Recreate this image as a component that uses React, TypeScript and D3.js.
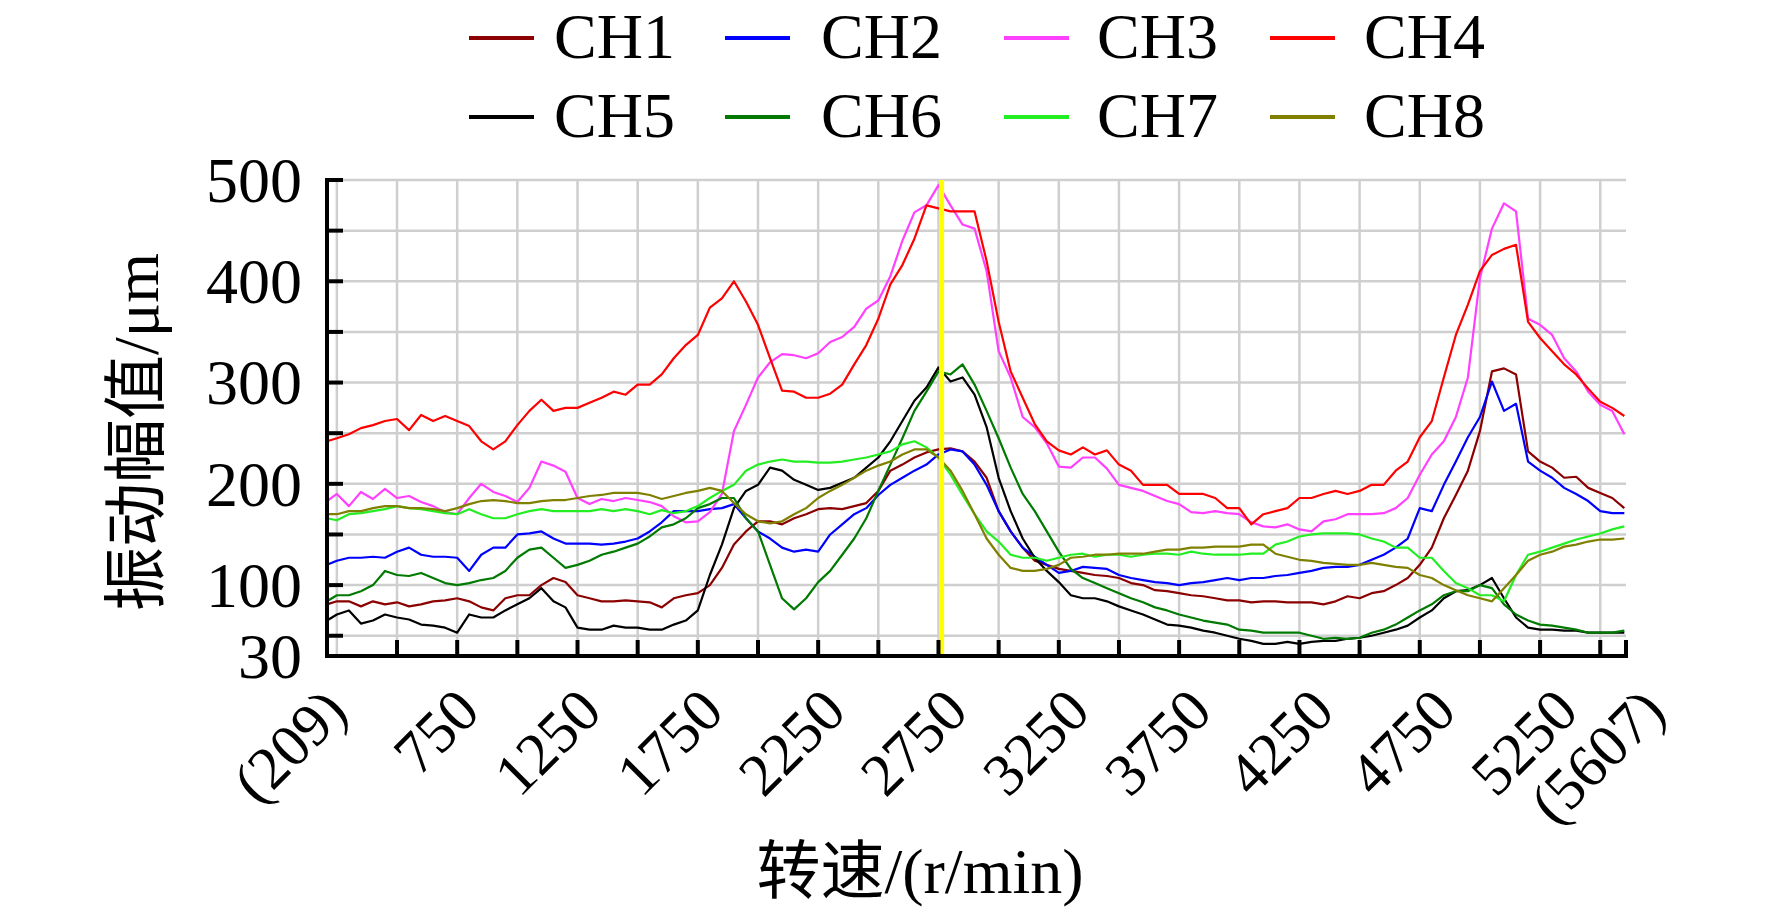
import React, { useEffect, useRef } from 'react';
import * as d3 from 'd3';

// rotor speed (r/min) at each sample
const RPM = [
  209, 250, 300, 350, 400, 450, 500, 550, 600, 650,
  700, 750, 800, 850, 900, 950, 1000, 1050, 1100, 1150,
  1200, 1250, 1300, 1350, 1400, 1450, 1500, 1550, 1600, 1650,
  1700, 1750, 1800, 1850, 1900, 1950, 2000, 2050, 2100, 2150,
  2200, 2250, 2300, 2350, 2400, 2450, 2500, 2550, 2600, 2650,
  2700, 2750, 2800, 2850, 2900, 2950, 3000, 3050, 3100, 3150,
  3200, 3250, 3300, 3350, 3400, 3450, 3500, 3550, 3600, 3650,
  3700, 3750, 3800, 3850, 3900, 3950, 4000, 4050, 4100, 4150,
  4200, 4250, 4300, 4350, 4400, 4450, 4500, 4550, 4600, 4650,
  4700, 4750, 4800, 4850, 4900, 4950, 5000, 5050, 5100, 5150,
  5200, 5250, 5300, 5350, 5400, 5450, 5500, 5550, 5600,
];

// vibration amplitude (um) per channel
const CH1 = [
  81, 84, 84, 79, 84, 81, 83, 79, 81, 84,
  85, 87, 84, 78, 75, 87, 90, 90, 100, 107,
  103, 90, 87, 84, 84, 85, 84, 83, 78, 87,
  90, 92, 100, 117, 140, 153, 163, 163, 160, 166,
  170, 175, 176, 175, 178, 181, 193, 213, 219, 226,
  231, 234, 235, 232, 222, 206, 173, 153, 137, 124,
  120, 116, 114, 112, 110, 109, 107, 102, 100, 95,
  94, 92, 90, 89, 87, 85, 85, 83, 84, 84,
  83, 83, 83, 81, 84, 89, 87, 92, 94, 100,
  107, 120, 137, 166, 189, 213, 252, 311, 314, 308,
  232, 222, 216, 206, 207, 196, 191, 186, 176,
];
const CH2 = [
  120, 124, 127, 127, 128, 127, 133, 137, 130, 128,
  128, 127, 114, 130, 137, 137, 150, 151, 153, 146,
  141, 141, 141, 140, 141, 143, 146, 153, 162, 173,
  173, 173, 175, 176, 180, 166, 153, 146, 137, 133,
  135, 133, 150, 160, 170, 176, 189, 199, 206, 213,
  219, 229, 234, 232, 219, 199, 173, 153, 137, 128,
  120, 112, 114, 118, 117, 116, 110, 107, 105, 103,
  102, 100, 102, 103, 105, 107, 105, 107, 107, 109,
  110, 112, 114, 117, 118, 118, 120, 125, 130, 137,
  146, 176, 173, 199, 222, 246, 266, 301, 272, 279,
  222, 213, 206, 196, 190, 183, 173, 171, 171,
];
const CH3 = [
  183, 190, 178, 192, 185, 195, 186, 188, 182, 178,
  172, 170, 186, 200, 192, 188, 182, 196, 222, 218,
  212, 186, 180, 185, 183, 186, 184, 182, 178, 168,
  162, 163, 172, 190, 252, 278, 305, 320, 328, 327,
  324, 329, 340, 345, 355, 373, 381, 405, 440, 468,
  475, 495, 475, 456, 452, 410, 331, 305, 266, 256,
  240, 217, 216, 226, 226, 215, 199, 196, 193, 188,
  183, 180, 172, 171, 173, 171, 170, 162, 158, 157,
  160, 155, 153, 163, 165, 170, 170, 170, 171, 176,
  186, 209, 229, 242, 266, 305, 403, 452, 477, 469,
  363, 357, 347, 324, 311, 291, 278, 272, 249,
];
const CH4 = [
  242, 245, 249, 255, 258, 262, 264, 253, 268, 262,
  267, 262, 257, 242, 234, 242, 258, 272, 283, 272,
  275, 275, 280, 285, 291, 288, 298, 298, 308, 324,
  337, 347, 374, 383, 400, 380, 357, 324, 292, 291,
  285, 285, 289, 298, 318, 337, 363, 397, 416, 442,
  475, 472, 469, 469, 469, 420, 360, 311, 285, 259,
  242, 233, 229, 236, 229, 233, 219, 213, 199, 199,
  199, 190, 190, 190, 186, 176, 176, 160, 170, 173,
  176, 186, 186, 190, 193, 190, 193, 199, 199, 213,
  222, 246, 262, 305, 347, 377, 410, 426, 432, 436,
  360, 344, 331, 318, 308, 294, 281, 275, 267,
];
const CH5 = [
  65, 71, 75, 62, 65, 71, 68, 66, 61, 60,
  58, 53, 71, 68, 68, 75, 81, 87, 97, 84,
  78, 58, 56, 56, 60, 58, 58, 56, 56, 61,
  65, 75, 110, 140, 176, 193, 199, 216, 213, 204,
  199, 194, 196, 201, 206, 216, 226, 242, 262, 282,
  295, 315, 301, 305, 288, 256, 206, 173, 146, 127,
  114, 103, 90, 87, 87, 84, 79, 75, 71, 66,
  61, 60, 58, 55, 53, 50, 47, 45, 42, 42,
  44, 42, 44, 45, 45, 47, 48, 50, 53, 56,
  60, 68, 75, 87, 94, 95, 100, 107, 87, 68,
  58, 56, 56, 55, 55, 53, 53, 53, 53,
];
const CH6 = [
  84, 90, 90, 94, 100, 114, 110, 109, 112, 107,
  102, 100, 102, 105, 107, 114, 127, 135, 137, 127,
  117, 120, 124, 130, 133, 137, 141, 148, 157, 160,
  166, 176, 180, 186, 186, 166, 153, 120, 87, 76,
  87, 103, 114, 130, 146, 166, 193, 219, 245, 272,
  291, 311, 308, 318, 298, 272, 245, 216, 190, 173,
  153, 133, 116, 107, 102, 97, 92, 87, 83, 78,
  75, 71, 68, 65, 63, 61, 56, 55, 53, 53,
  53, 53, 50, 47, 48, 47, 48, 53, 56, 61,
  68, 75, 81, 90, 94, 94, 100, 97, 81, 71,
  65, 61, 60, 58, 56, 53, 53, 53, 55,
];
const CH7 = [
  166, 164, 170, 171, 173, 175, 178, 176, 175, 173,
  171, 170, 175, 170, 166, 166, 170, 173, 175, 173,
  173, 173, 173, 175, 173, 175, 173, 170, 174, 171,
  173, 178, 186, 193, 199, 213, 219, 222, 224, 222,
  222, 221, 221, 222, 224, 226, 229, 232, 239, 242,
  236, 226, 209, 189, 170, 153, 143, 130, 127, 127,
  124, 127, 130, 131, 128, 130, 130, 128, 130, 131,
  131, 130, 133, 131, 130, 130, 130, 131, 131, 140,
  143, 148, 150, 151, 151, 151, 150, 146, 143, 137,
  137, 127, 127, 114, 102, 97, 90, 90, 84, 110,
  130, 133, 137, 141, 145, 148, 151, 155, 158,
];
const CH8 = [
  170, 170, 173, 173, 176, 178, 178, 176, 176, 175,
  173, 176, 180, 183, 184, 183, 181, 181, 183, 184,
  184, 186, 188, 189, 191, 191, 191, 189, 185, 188,
  191, 193, 196, 193, 181, 170, 163, 161, 163, 170,
  176, 186, 193, 199, 206, 213, 218, 222, 229, 234,
  234, 226, 213, 193, 170, 146, 130, 117, 114, 114,
  116, 120, 127, 128, 130, 130, 131, 131, 131, 133,
  135, 135, 137, 137, 138, 138, 138, 140, 140, 131,
  128, 125, 124, 122, 121, 120, 120, 122, 120, 118,
  117, 110, 107, 100, 95, 90, 87, 84, 97, 110,
  124, 130, 133, 138, 140, 143, 145, 145, 146,
];

const SERIES_NAMES = ['CH1', 'CH2', 'CH3', 'CH4', 'CH5', 'CH6', 'CH7', 'CH8'];
const SERIES_VALUES = [CH1, CH2, CH3, CH4, CH5, CH6, CH7, CH8];
const SERIES_COLORS = ['#8b0000', '#0000ff', '#ff40ff', '#ff0000', '#000000', '#007a00', '#22ee22', '#808000'];

const Y_GRID = [50, 100, 150, 200, 250, 300, 350, 400, 450, 500];
const Y_LABELS = [30, 100, 200, 300, 400, 500];
const X_GRID = [250, 500, 750, 1000, 1250, 1500, 1750, 2000, 2250, 2500, 2750, 3000, 3250, 3500,
  3750, 4000, 4250, 4500, 4750, 5000, 5250, 5500];
const X_TICKS = [500, 750, 1000, 1250, 1500, 1750, 2000, 2250, 2500, 2750, 3000, 3250, 3500,
  3750, 4000, 4250, 4500, 4750, 5000, 5250, 5500, 5607];
const X_LABELS = [209, 750, 1250, 1750, 2250, 2750, 3250, 3750, 4250, 4750, 5250, 5607];
const MARKER_RPM = 2763;

const FONT = '"Liberation Serif", "Times New Roman", "Noto Sans CJK SC", serif';

const App: React.FC = () => {
  const svgRef = useRef<SVGSVGElement | null>(null);

  useEffect(() => {
    document.body.style.margin = '0';
    const svg = d3.select(svgRef.current);
    svg.selectAll('*').remove();

    const left = 327;
    const right = 1626;
    const top = 180;
    const bottom = 656;

    const x = d3.scaleLinear().domain([209, 5607]).range([left, right]);
    const y = d3.scaleLinear().domain([30, 500]).range([bottom, top]);
    // rotated tick labels sit a little right of their ticks
    const xLabel = d3.scaleLinear().domain([209, 5607]).range([350, 1668]);

    // grid
    const grid = svg.append('g').attr('stroke', '#cfcfcf').attr('stroke-width', 2.5);
    grid
      .selectAll('.hg')
      .data(Y_GRID)
      .join('line')
      .attr('x1', left)
      .attr('x2', right)
      .attr('y1', (d) => y(d))
      .attr('y2', (d) => y(d));
    grid
      .selectAll('.vg')
      .data(X_GRID)
      .join('line')
      .attr('x1', (d) => x(d))
      .attr('x2', (d) => x(d))
      .attr('y1', top)
      .attr('y2', bottom);

    // series
    const line = d3
      .line<number>()
      .x((_, i) => x(RPM[i]))
      .y((d) => y(d));

    svg
      .append('g')
      .selectAll('path')
      .data(SERIES_VALUES)
      .join('path')
      .attr('d', (d) => line(d))
      .attr('fill', 'none')
      .attr('stroke', (_, i) => SERIES_COLORS[i])
      .attr('stroke-width', 2.2)
      .attr('stroke-linejoin', 'round');

    // yellow marker line
    svg
      .append('line')
      .attr('x1', x(MARKER_RPM))
      .attr('x2', x(MARKER_RPM))
      .attr('y1', top)
      .attr('y2', bottom)
      .attr('stroke', '#ffff00')
      .attr('stroke-width', 5);

    // axes
    const axis = svg.append('g').attr('stroke', '#000').attr('stroke-width', 4);
    axis.append('line').attr('x1', left).attr('x2', left).attr('y1', top - 2).attr('y2', bottom + 2);
    axis.append('line').attr('x1', left - 2).attr('x2', right + 2).attr('y1', bottom).attr('y2', bottom);
    axis
      .selectAll('.yt')
      .data(Y_GRID)
      .join('line')
      .attr('x1', left)
      .attr('x2', left + 16)
      .attr('y1', (d) => y(d))
      .attr('y2', (d) => y(d));
    axis
      .selectAll('.xt')
      .data(X_TICKS)
      .join('line')
      .attr('x1', (d) => x(d))
      .attr('x2', (d) => x(d))
      .attr('y1', bottom)
      .attr('y2', bottom - 16);

    svg
      .append('g')
      .selectAll('text')
      .data(Y_LABELS)
      .join('text')
      .attr('x', 302)
      .attr('y', (d) => y(d))
      .attr('dy', '0.34em')
      .attr('text-anchor', 'end')
      .style('font-family', FONT)
      .style('font-size', '64px')
      .text((d) => String(d));

    svg
      .append('g')
      .selectAll('text')
      .data(X_LABELS)
      .join('text')
      .attr('transform', (d) => `translate(${xLabel(d)},714) rotate(-45)`)
      .attr('text-anchor', 'end')
      .style('font-family', FONT)
      .style('font-size', '60px')
      .text((d, i) => (i === 0 || i === X_LABELS.length - 1 ? `(${d})` : String(d)));

    // axis titles
    svg
      .append('text')
      .attr('transform', 'translate(158,432) rotate(-90)')
      .attr('text-anchor', 'middle')
      .style('font-family', FONT)
      .style('font-size', '64px')
      .text('振动幅值/μm');

    svg
      .append('text')
      .attr('x', 920)
      .attr('y', 893)
      .attr('text-anchor', 'middle')
      .style('font-family', FONT)
      .style('font-size', '64px')
      .text('转速/(r/min)');

    // legend, two rows of four
    const swatchX = [469, 725, 1004, 1270];
    const textX = [554, 821, 1097, 1364];
    const rowY = [58, 137];
    const legend = svg
      .append('g')
      .selectAll('g')
      .data(SERIES_NAMES)
      .join('g')
      .attr('transform', (_, i) => `translate(0,${rowY[Math.floor(i / 4)]})`);
    legend
      .append('line')
      .attr('x1', (_, i) => swatchX[i % 4])
      .attr('x2', (_, i) => swatchX[i % 4] + 65)
      .attr('y1', -20)
      .attr('y2', -20)
      .attr('stroke', (_, i) => SERIES_COLORS[i])
      .attr('stroke-width', 4);
    legend
      .append('text')
      .attr('x', (_, i) => textX[i % 4])
      .style('font-family', FONT)
      .style('font-size', '64px')
      .text((d) => d);
  }, []);

  return <svg ref={svgRef} width={1772} height={914} style={{ display: 'block' }}></svg>;
};

export default App;
